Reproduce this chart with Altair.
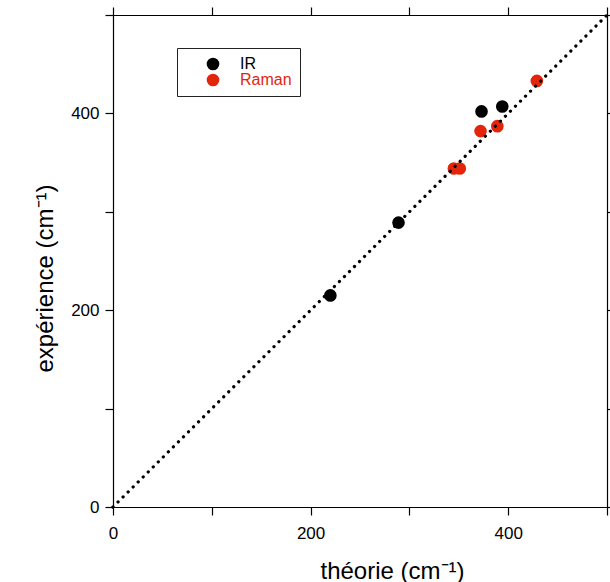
import altair as alt
import pandas as pd

RED = "#e3250c"
FONT = "Liberation Sans"

# data
ir_theory = [220, 289, 373, 394]
ir_exp = [215, 289, 402, 407]
raman_theory = [345, 351, 372, 389, 429]
raman_exp = [344, 344, 382, 387, 433]
diag_x = [0, 500]
diag_y = [0, 500]
tick_values = [0, 100, 200, 300, 400, 500]
label_values = [0, 200, 400]

pts = pd.DataFrame({
    "theorie": ir_theory + raman_theory,
    "experience": ir_exp + raman_exp,
    "type": ["IR"] * len(ir_theory) + ["Raman"] * len(raman_theory),
})
diag = pd.DataFrame({"theorie": diag_x, "experience": diag_y})

xscale = alt.Scale(domain=[0, 500], nice=False, zero=False)
yscale = alt.Scale(domain=[0, 500], nice=False, zero=False)

label_expr = "indexof([0,200,400], datum.value) >= 0 ? datum.label : ''"

points = alt.Chart(pts).mark_point(filled=True, size=160, opacity=1).encode(
    x=alt.X("theorie:Q", scale=xscale,
            axis=alt.Axis(orient="bottom", values=tick_values, labelExpr=label_expr,
                          title="théorie (cm⁻¹)", titleAlign="left", titleX=207,
                          titleY=71, titleBaseline="alphabetic",
                          labelPadding=10, labelFlush=False)),
    y=alt.Y("experience:Q", scale=yscale,
            axis=alt.Axis(orient="left", values=tick_values, labelExpr=label_expr,
                          title="expérience (cm⁻¹)", titleAngle=270, titleAlign="left",
                          titleX=-61, titleY=357, titleBaseline="alphabetic",
                          labelPadding=6, labelFlush=False)),
    color=alt.Color("type:N",
                    scale=alt.Scale(domain=["IR", "Raman"], range=["black", RED]),
                    legend=alt.Legend(
                        title=None, orient="none", legendX=64, legendY=33,
                        strokeColor="#222222", padding=8, symbolOffset=20,
                        symbolType="circle", symbolSize=160, labelOffset=19,
                        labelFontSize=16, labelFont=FONT, rowPadding=0,
                        labelColor=alt.ExprRef(expr=f"datum.label == 'Raman' ? '{RED}' : 'black'"),
                    )),
)

line = alt.Chart(diag).mark_line(
    color="black", strokeWidth=3.2, strokeDash=[0.1, 7.0], strokeCap="round"
).encode(
    x=alt.X("theorie:Q", scale=xscale,
            axis=alt.Axis(orient="top", values=tick_values, labels=False, title=None)),
    y=alt.Y("experience:Q", scale=yscale,
            axis=alt.Axis(orient="right", values=tick_values, labels=False, title=None)),
)

chart = alt.layer(points, line).resolve_axis(
    x="independent", y="independent"
).properties(
    width=494, height=492,
    autosize=alt.AutoSizeParams(type="none"),
    padding={"left": 113, "top": 15, "right": 3, "bottom": 75},
    background="white",
).configure_view(stroke=None).configure_axis(
    grid=False, domainColor="black", domainWidth=1.2, tickColor="black",
    tickSize=8, tickWidth=1.2, labelFont=FONT, labelFontSize=17,
    labelColor="black", titleFont=FONT, titleFontSize=24, titleColor="black",
    titleFontWeight="normal",
)

chart.save("out.html", embed_options={"renderer": "svg", "actions": False})
